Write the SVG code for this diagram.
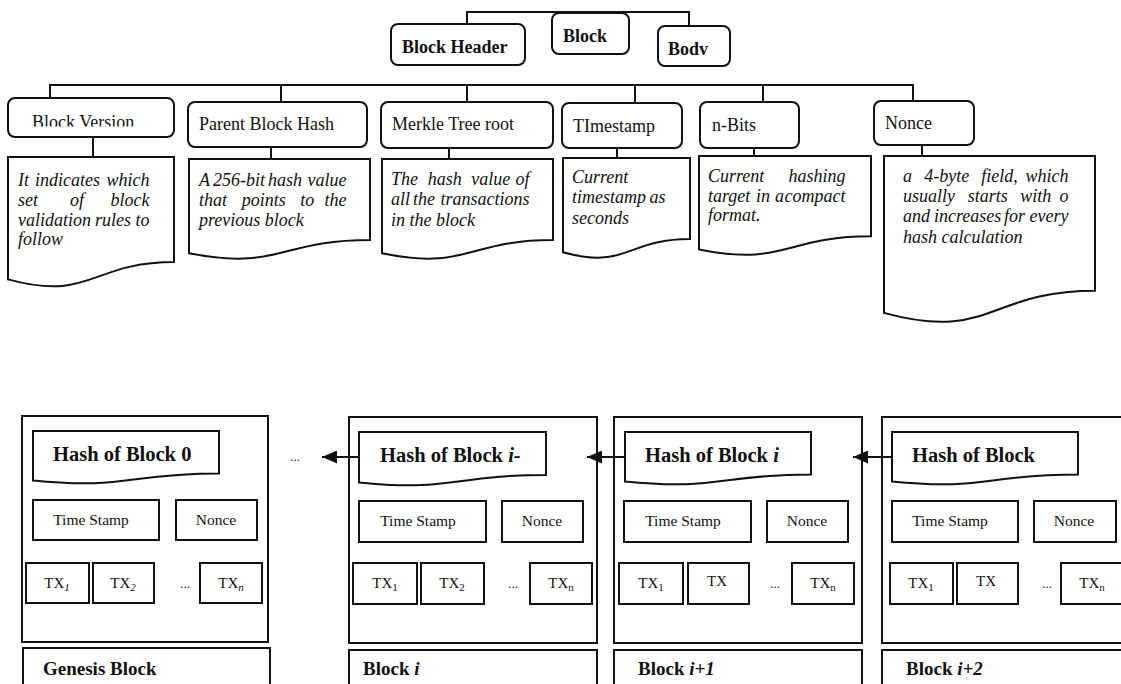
<svg xmlns="http://www.w3.org/2000/svg" width="1121" height="684" viewBox="0 0 1121 684">
<style>
.bx{fill:#fff;stroke:#111;stroke-width:2}
.ln{fill:none;stroke:#111;stroke-width:2}
.t{font-family:"Liberation Serif",serif;fill:#111}
.b{font-weight:bold}
.hd{font-size:18px}
.lb{font-size:19px}
.lv{font-size:18px}
.it{font-style:italic;font-size:18px}
.hs{font-size:20.5px;font-weight:bold}
.sm{font-size:15.5px}
.tx{font-size:15px}
.dt{font-size:13px}
</style>
<defs>
<marker id="ah" markerUnits="userSpaceOnUse" markerWidth="16" markerHeight="13" refX="15" refY="6.5" orient="auto">
<path d="M0,0 L15,6.5 L0,13 Z" fill="#111"/>
</marker>
<clipPath id="cv"><rect x="8" y="98" width="166" height="28.5"/></clipPath>
</defs>

<g id="block-header"><rect class="bx" x="391" y="24" width="134" height="41" rx="7"/><text class="t b hd" x="402" y="53">Block Header</text></g>
<g id="block"><rect class="bx" x="552" y="13" width="77" height="41" rx="7"/><text class="t b hd" x="563" y="42">Block</text></g>
<g id="body"><rect class="bx" x="658" y="26" width="72" height="40" rx="7"/><text class="t b hd" x="668" y="55">Bodv</text></g>

<g id="block-version"><rect class="bx" x="8" y="98" width="166" height="39" rx="7"/><text class="t lv" x="32" y="128" clip-path="url(#cv)">Block Version</text></g>
<g id="parent-block-hash"><rect class="bx" x="188" y="102" width="179" height="45" rx="7"/><text class="t lv" x="199" y="130">Parent Block Hash</text></g>
<g id="merkle-tree-root"><rect class="bx" x="381" y="102" width="172" height="46" rx="7"/><text class="t lv" x="392" y="130">Merkle Tree root</text></g>
<g id="timestamp"><rect class="bx" x="562" y="103" width="120" height="45" rx="7"/><text class="t lv" x="573" y="132">TImestamp</text></g>
<g id="n-bits"><rect class="bx" x="700" y="102" width="99" height="46" rx="7"/><text class="t lv" x="712" y="131">n-Bits</text></g>
<g id="nonce"><rect class="bx" x="874" y="101" width="100" height="44" rx="7"/><text class="t lv" x="885" y="129">Nonce</text></g>

<g id="doc-version">
<path class="bx" d="M8,157 H174 V262.1 C91,262.1 91,302.1 8,279.4 Z"/>
<text class="t it"><tspan x="18" y="186">It</tspan><tspan x="35" y="186">indicates</tspan><tspan x="154" y="186" text-anchor="end">which</tspan>
<tspan x="18" y="206">set</tspan><tspan x="70" y="206">of</tspan><tspan x="154" y="206" text-anchor="end">block</tspan>
<tspan x="18" y="226">validation</tspan><tspan x="95" y="226">rules</tspan><tspan x="154" y="226" text-anchor="end">to</tspan>
<tspan x="18" y="245">follow</tspan></text>
</g>
<g id="doc-parent">
<path class="bx" d="M189,159 H370 V240 C279.5,240 279.5,270.9 189,253.3 Z"/>
<text class="t it"><tspan x="199" y="186">A</tspan><tspan x="213" y="186">256-bit</tspan><tspan x="268" y="186">hash</tspan><tspan x="351" y="186" text-anchor="end">value</tspan>
<tspan x="199" y="206">that</tspan><tspan x="241.7" y="206">points</tspan><tspan x="300.3" y="206">to</tspan><tspan x="351" y="206" text-anchor="end">the</tspan>
<tspan x="199" y="226">previous block</tspan></text>
</g>
<g id="doc-merkle">
<path class="bx" d="M382,159 H553 V240 C467.5,240 467.5,270.9 382,253.3 Z"/>
<text class="t it"><tspan x="391" y="185">The</tspan><tspan x="427.7" y="185">hash</tspan><tspan x="471.3" y="185">value</tspan><tspan x="534" y="185" text-anchor="end">of</tspan>
<tspan x="391" y="205">all</tspan><tspan x="413" y="205">the</tspan><tspan x="534" y="205" text-anchor="end">transactions</tspan>
<tspan x="391" y="226">in the block</tspan></text>
</g>
<g id="doc-timestamp">
<path class="bx" d="M563,158 H690 V239 C626.5,239 626.5,269.9 563,252.3 Z"/>
<text class="t it"><tspan x="572" y="183">Current</tspan>
<tspan x="572" y="203">timestamp</tspan><tspan x="670" y="203" text-anchor="end">as</tspan>
<tspan x="572" y="224">seconds</tspan></text>
</g>
<g id="doc-nbits">
<path class="bx" d="M699,156 H871 V236.2 C785,236.2 785,266.8 699,249.4 Z"/>
<text class="t it"><tspan x="708" y="182">Current</tspan><tspan x="850" y="182" text-anchor="end">hashing</tspan>
<tspan x="708" y="202">target</tspan><tspan x="756" y="202">in</tspan><tspan x="775" y="202">a</tspan><tspan x="850" y="202" text-anchor="end">compact</tspan>
<tspan x="708" y="221">format.</tspan></text>
</g>
<g id="doc-nonce">
<path class="bx" d="M884,156 H1095 V290.7 C989.5,290.7 989.5,342 884,312.9 Z"/>
<text class="t it"><tspan x="903" y="182">a</tspan><tspan x="924.2" y="182">4-byte</tspan><tspan x="981.3" y="182">field,</tspan><tspan x="1073" y="182" text-anchor="end">which</tspan>
<tspan x="903" y="202">usually</tspan><tspan x="967.7" y="202">starts</tspan><tspan x="1020.3" y="202">with</tspan><tspan x="1073" y="202" text-anchor="end">o</tspan>
<tspan x="903" y="222">and</tspan><tspan x="934" y="222">increases</tspan><tspan x="1004" y="222">for</tspan><tspan x="1073" y="222" text-anchor="end">every</tspan>
<tspan x="903" y="243">hash calculation</tspan></text>
</g>

<g id="genesis-block">
<rect class="bx" x="22" y="416" width="246" height="226"/>
<path class="bx" d="M33,431 H219 V473.5 C126,473.5 126,489.7 33,480.5 Z"/>
<text class="t hs" x="53" y="461">Hash of Block 0</text>
<rect class="bx" x="33" y="500" width="126" height="40"/><text class="t sm" x="91" y="525" text-anchor="middle">Time Stamp</text>
<rect class="bx" x="176" y="500" width="81" height="40"/><text class="t sm" x="216" y="525" text-anchor="middle">Nonce</text>
<rect class="bx" x="26" y="563" width="63" height="40"/><text class="t tx" x="57" y="588" text-anchor="middle">TX<tspan font-size="11" font-style="italic" dy="3">1</tspan></text>
<rect class="bx" x="93" y="563" width="61" height="40"/><text class="t tx" x="123" y="588" text-anchor="middle">TX<tspan font-size="11" font-style="italic" dy="3">2</tspan></text>
<text class="t dt" x="185" y="588" text-anchor="middle">...</text>
<rect class="bx" x="200" y="563" width="62" height="40"/><text class="t tx" x="231" y="588" text-anchor="middle">TX<tspan font-size="11" font-style="italic" dy="3">n</tspan></text>
<rect class="bx" x="23" y="648" width="247" height="50"/><text class="t b lb" x="43" y="675">Genesis Block</text>
</g>

<text id="dots" class="t dt" x="295" y="461" text-anchor="middle">...</text>

<g id="block-i">
<rect class="bx" x="349" y="417" width="248" height="226"/>
<path class="bx" d="M359,432 H546 V475 C452.5,475 452.5,491.8 359,482.4 Z"/>
<text class="t hs" x="380" y="462">Hash of Block <tspan font-style="italic">i-</tspan></text>
<rect class="bx" x="359" y="501" width="127" height="41"/><text class="t sm" x="418" y="526" text-anchor="middle">Time Stamp</text>
<rect class="bx" x="502" y="501" width="81" height="41"/><text class="t sm" x="542" y="526" text-anchor="middle">Nonce</text>
<rect class="bx" x="353" y="563" width="64" height="41"/><text class="t tx" x="385" y="588" text-anchor="middle">TX<tspan font-size="11" dy="3">1</tspan></text>
<rect class="bx" x="421" y="563" width="63" height="41"/><text class="t tx" x="452" y="588" text-anchor="middle">TX<tspan font-size="11" dy="3">2</tspan></text>
<text class="t dt" x="513" y="588" text-anchor="middle">...</text>
<rect class="bx" x="530" y="563" width="62" height="41"/><text class="t tx" x="561" y="588" text-anchor="middle">TX<tspan font-size="11" dy="3">n</tspan></text>
<rect class="bx" x="349" y="650" width="248" height="50"/><text class="t b lb" x="363" y="675">Block <tspan font-style="italic">i</tspan></text>
</g>

<g id="block-i1">
<rect class="bx" x="614" y="417" width="248" height="226"/>
<path class="bx" d="M625,432 H811 V474.5 C718,474.5 718,490.7 625,481.5 Z"/>
<text class="t hs" x="645" y="462">Hash of Block <tspan font-style="italic">i</tspan></text>
<rect class="bx" x="624" y="501" width="127" height="41"/><text class="t sm" x="683" y="526" text-anchor="middle">Time Stamp</text>
<rect class="bx" x="767" y="501" width="81" height="41"/><text class="t sm" x="807" y="526" text-anchor="middle">Nonce</text>
<rect class="bx" x="619" y="563" width="64" height="41"/><text class="t tx" x="651" y="588" text-anchor="middle">TX<tspan font-size="11" dy="3">1</tspan></text>
<rect class="bx" x="688" y="563" width="61" height="41"/><text class="t tx" x="717" y="586" text-anchor="middle">TX</text>
<text class="t dt" x="775" y="588" text-anchor="middle">...</text>
<rect class="bx" x="792" y="563" width="62" height="41"/><text class="t tx" x="823" y="588" text-anchor="middle">TX<tspan font-size="11" dy="3">n</tspan></text>
<rect class="bx" x="614" y="650" width="248" height="50"/><text class="t b lb" x="638" y="675">Block <tspan font-style="italic">i+1</tspan></text>
</g>

<g id="block-i2">
<rect class="bx" x="882" y="417" width="260" height="226"/>
<path class="bx" d="M892,432 H1078 V474.5 C985,474.5 985,490.7 892,481.5 Z"/>
<text class="t hs" x="912" y="462">Hash of Block</text>
<rect class="bx" x="892" y="501" width="126" height="41"/><text class="t sm" x="950" y="526" text-anchor="middle">Time Stamp</text>
<rect class="bx" x="1034" y="501" width="82" height="41"/><text class="t sm" x="1074" y="526" text-anchor="middle">Nonce</text>
<rect class="bx" x="890" y="563" width="63" height="41"/><text class="t tx" x="921" y="588" text-anchor="middle">TX<tspan font-size="11" dy="3">1</tspan></text>
<rect class="bx" x="957" y="563" width="61" height="41"/><text class="t tx" x="986" y="586" text-anchor="middle">TX</text>
<text class="t dt" x="1047" y="588" text-anchor="middle">...</text>
<rect class="bx" x="1061" y="563" width="70" height="41"/><text class="t tx" x="1092" y="588" text-anchor="middle">TX<tspan font-size="11" dy="3">n</tspan></text>
<rect class="bx" x="882" y="650" width="260" height="50"/><text class="t b lb" x="906" y="675">Block <tspan font-style="italic">i+2</tspan></text>
</g>

<g id="connectors">
<path class="ln" d="M467,12 H689 M467,11 V24 M689,11 V26"/>
<path class="ln" d="M50,85 H913 M50,84 V98 M281,84 V102 M467,84 V102 M635,84 V103 M763,84 V102 M913,84 V101"/>
<path class="ln" d="M93,137 V157 M271,147 V159 M449,148 V159 M617,148 V158 M754,148 V156 M922,145 V156"/>
<path class="ln" d="M359,457 H322" marker-end="url(#ah)"/>
<path class="ln" d="M625,457 H587" marker-end="url(#ah)"/>
<path class="ln" d="M892,457 H853" marker-end="url(#ah)"/>
</g>
</svg>
